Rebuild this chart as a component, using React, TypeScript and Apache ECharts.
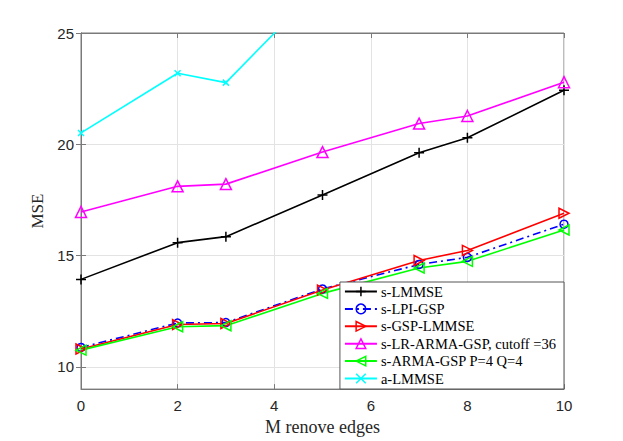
import React, { useEffect, useRef } from "react";
import * as echarts from "echarts";

const xValues = [0, 2, 3, 5, 7, 8, 10];
const sLMMSE = [13.93, 15.58, 15.85, 17.72, 19.62, 20.29, 22.43];
const sLPIGSP = [10.87, 11.97, 11.99, 13.5, 14.6, 14.92, 16.41];
const sGSPLMMSE = [10.8, 11.9, 11.95, 13.45, 14.78, 15.23, 16.9];
const sLRARMAGSP = [16.96, 18.11, 18.21, 19.65, 20.93, 21.27, 22.79];
const sARMAGSP = [10.75, 11.8, 11.85, 13.3, 14.44, 14.74, 16.15];
const aLMMSE = [20.51, 23.19, 22.77, 27.2, 29.5, 30.5, 33.0];

const yTicks = [10, 15, 20, 25];
const xTicks = [0, 2, 4, 6, 8, 10];

const seriesNames = [
  "s-LMMSE",
  "s-LPI-GSP",
  "s-GSP-LMMSE",
  "s-LR-ARMA-GSP, cutoff =36",
  "s-ARMA-GSP P=4 Q=4",
  "a-LMMSE",
];

const AXIS = "#262626";
const GRID = "#e3e3e3";
const BOX = "#7a7a7a";

function mk(
  name: string,
  vals: number[],
  color: string,
  symbol: string,
  size: number,
  lineType: any = "solid"
) {
  return {
    name,
    type: "line",
    data: xValues.map((x, i) => [x, vals[i]]),
    symbol,
    symbolSize: size,
    clip: true,
    itemStyle: { color: "rgba(0,0,0,0)", borderColor: color, borderWidth: 1.5 },
    lineStyle: { color, width: 1.6, type: lineType },
    emphasis: { disabled: true },
  };
}

export default function App() {
  const ref = useRef<HTMLDivElement>(null);
  useEffect(() => {
    if (!ref.current) return;
    const chart = echarts.init(ref.current, undefined, { renderer: "svg" });
    const plus = "path://M5,0L5,10M0,5L10,5";
    const cross = "path://M0,0L10,10M10,0L0,10";
    const triRight = "path://M0,0L10,5L0,10Z";
    const triLeft = "path://M10,0L0,5L10,10Z";
    const triUp = "path://M5,0L10,9L0,9Z";
    const tickLabel = {
      color: AXIS,
      fontFamily: "Liberation Sans, Arial, sans-serif",
      fontSize: 15,
    };
    chart.setOption({
      animation: false,
      backgroundColor: "#ffffff",
      grid: {
        left: 81,
        top: 33,
        right: 59,
        bottom: 49,
        show: true,
        borderColor: BOX,
        borderWidth: 1,
        backgroundColor: "transparent",
      },
      legend: {
        data: seriesNames,
        orient: "vertical",
        right: 59,
        bottom: 52,
        backgroundColor: "#ffffff",
        borderColor: "#555",
        borderWidth: 1,
        padding: [2, 8, 3, 4],
        itemWidth: 32,
        itemHeight: 12,
        itemGap: 2.4,
        selectedMode: false,
        textStyle: {
          fontFamily: "Liberation Serif, Times New Roman, serif",
          fontSize: 14.5,
          color: "#000",
          padding: [0, 0, 0, -1],
        },
        itemStyle: { borderWidth: 1.5 },
      },
      xAxis: [
        {
          type: "value",
          min: 0,
          max: 10,
          interval: 2,
          position: "bottom",
          axisLine: { show: true, lineStyle: { color: BOX, width: 1 } },
          axisTick: { show: true, inside: true, length: 5, lineStyle: { color: BOX } },
          axisLabel: { ...tickLabel, margin: 9, customValues: xTicks },
          splitLine: { show: true, lineStyle: { color: GRID, width: 1 } },
          name: "M renove edges",
          nameLocation: "middle",
          nameGap: 26,
          nameTextStyle: {
            fontFamily: "Liberation Serif, Times New Roman, serif",
            fontSize: 18,
            color: AXIS,
          },
        },
        {
          type: "value",
          min: 0,
          max: 10,
          interval: 2,
          position: "top",
          axisLine: { show: true, lineStyle: { color: BOX, width: 1 } },
          axisTick: { show: true, inside: true, length: 5, lineStyle: { color: BOX } },
          axisLabel: { show: false },
          splitLine: { show: false },
        },
      ],
      yAxis: [
        {
          type: "value",
          min: 9,
          max: 25,
          position: "left",
          axisLine: { show: true, lineStyle: { color: BOX, width: 1 } },
          axisTick: {
            show: true,
            inside: true,
            length: 5,
            lineStyle: { color: BOX },
            customValues: yTicks,
          },
          axisLabel: { ...tickLabel, margin: 7, customValues: yTicks },
          splitLine: { show: true, lineStyle: { color: GRID, width: 1 } },
          name: "MSE",
          nameLocation: "middle",
          nameGap: 32,
          nameTextStyle: {
            fontFamily: "Liberation Serif, Times New Roman, serif",
            fontSize: 17,
            color: AXIS,
          },
        },
        {
          type: "value",
          min: 9,
          max: 25,
          position: "right",
          axisLine: { show: true, lineStyle: { color: BOX, width: 1 } },
          axisTick: {
            show: true,
            inside: true,
            length: 5,
            lineStyle: { color: BOX },
            customValues: yTicks,
          },
          axisLabel: { show: false, customValues: yTicks },
          splitLine: { show: false },
        },
      ],
      series: [
        mk(seriesNames[0], sLMMSE, "#000000", plus, 10),
        mk(seriesNames[1], sLPIGSP, "#0000ff", "circle", 8, [8, 4, 2, 4]),
        mk(seriesNames[2], sGSPLMMSE, "#ff0000", triRight, 10),
        mk(seriesNames[3], sLRARMAGSP, "#ff00ff", triUp, 11),
        mk(seriesNames[4], sARMAGSP, "#00ff00", triLeft, 10),
        mk(seriesNames[5], aLMMSE, "#00ffff", cross, 6),
      ],
    });
    return () => chart.dispose();
  }, []);
  return (
    <div
      ref={ref}
      style={{ position: "fixed", left: 0, top: 0, width: 623, height: 441, background: "#fff" }}
    />
  );
}
